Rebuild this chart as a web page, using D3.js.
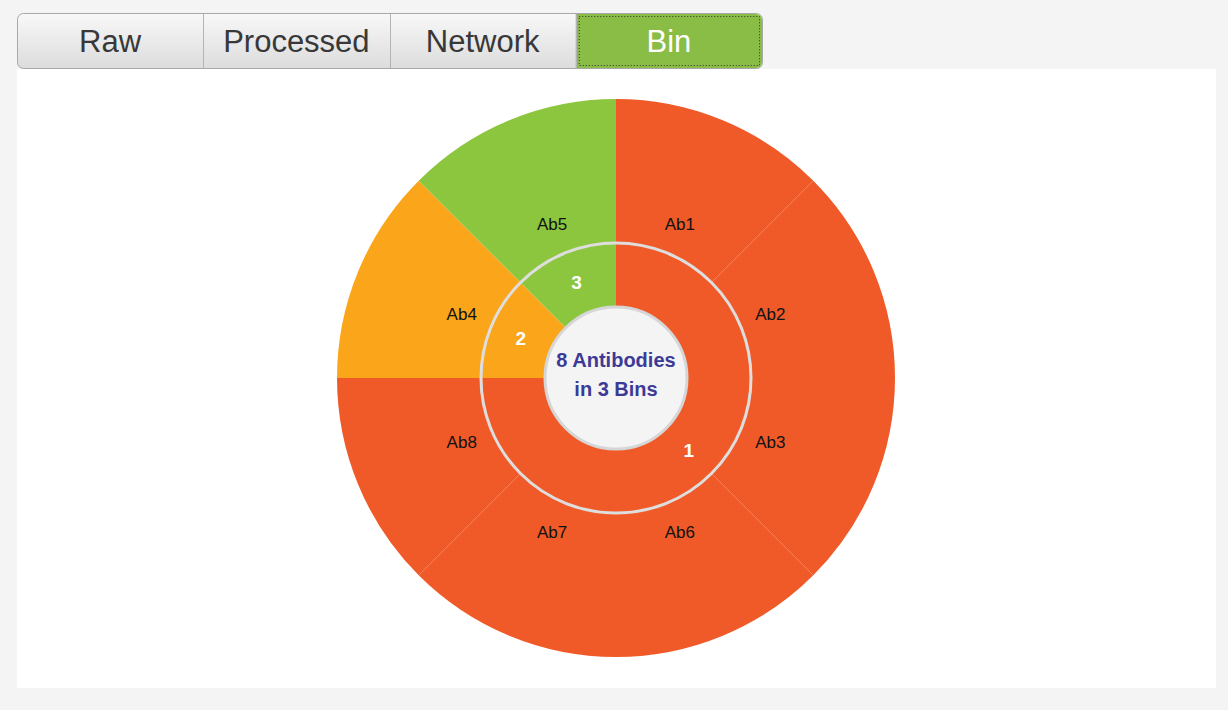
<!DOCTYPE html>
<html>
<head>
<meta charset="utf-8">
<script src="https://cdn.jsdelivr.net/npm/d3@7"></script>
<style>
  body { margin: 0; background: #f4f4f4; }
  svg { display: block; }
</style>
</head>
<body>
<svg id="chart" width="1228" height="710"></svg>
<script>
// data
const tabs = ["Raw", "Processed", "Network", "Bin"];
const activeTab = "Bin";
const antibodies = ["Ab1", "Ab2", "Ab3", "Ab6", "Ab7", "Ab8", "Ab4", "Ab5"];
const antibodyBin = ["1", "1", "1", "1", "1", "1", "2", "3"];
const bins = ["1", "2", "3"];
const binColors = ["#f05a28", "#faa51a", "#8cc63f"];
const centerLines = ["8 Antibodies", "in 3 Bins"];

const svg = d3.select("#chart");
const font = "'Liberation Sans', Arial, sans-serif";

// gradient for the tabs
const defs = svg.append("defs");
const grad = defs.append("linearGradient").attr("id", "tabGrad")
    .attr("x1", 0).attr("y1", 0).attr("x2", 0).attr("y2", 1);
grad.append("stop").attr("offset", "0%").attr("stop-color", "#f8f8f8");
grad.append("stop").attr("offset", "100%").attr("stop-color", "#dcdcdc");

// white panel
svg.append("rect")
    .attr("x", 17).attr("y", 69)
    .attr("width", 1199).attr("height", 619)
    .attr("fill", "#ffffff");

//////// Tabs ////////
const tabX = d3.scaleBand().domain(tabs).range([17, 762]);
const tabTop = 13, tabH = 55;
const gtabs = svg.append("g");

gtabs.append("rect")
    .attr("x", 17.5).attr("y", tabTop + 0.5)
    .attr("width", 745).attr("height", tabH)
    .attr("rx", 6)
    .attr("fill", "url(#tabGrad)")
    .attr("stroke", "#a8a8a8");

// active tab background, clipped to the rounded outline
defs.append("clipPath").attr("id", "tabClip")
    .append("rect")
    .attr("x", 18).attr("y", tabTop + 1)
    .attr("width", 744).attr("height", tabH - 1)
    .attr("rx", 6);

gtabs.append("g").attr("clip-path", "url(#tabClip)")
    .selectAll("rect")
    .data(tabs.filter(t => t == activeTab))
    .join("rect")
    .attr("x", d => tabX(d))
    .attr("y", tabTop)
    .attr("width", tabX.bandwidth() + 2)
    .attr("height", tabH + 1)
    .attr("fill", "#8abd45");

gtabs.selectAll("line.div")
    .data(tabs.slice(1))
    .join("line")
    .attr("class", "div")
    .attr("x1", d => Math.round(tabX(d)) + 0.5)
    .attr("x2", d => Math.round(tabX(d)) + 0.5)
    .attr("y1", tabTop + 1).attr("y2", tabTop + tabH)
    .attr("stroke", "#b4b4b4");

gtabs.selectAll("rect.focus")
    .data(tabs.filter(t => t == activeTab))
    .join("rect")
    .attr("class", "focus")
    .attr("x", d => tabX(d) + 3.5)
    .attr("y", tabTop + 3.5)
    .attr("width", tabX.bandwidth() - 6)
    .attr("height", tabH - 6)
    .attr("fill", "none")
    .attr("stroke", "#333")
    .attr("stroke-dasharray", "1,2");

gtabs.selectAll("text")
    .data(tabs)
    .join("text")
    .attr("x", d => tabX(d) + tabX.bandwidth() / 2)
    .attr("y", tabTop + tabH / 2 + 1)
    .attr("dy", "0.35em")
    .attr("text-anchor", "middle")
    .attr("font-family", font)
    .attr("font-size", 31)
    .attr("fill", d => d == activeTab ? "#ffffff" : "#383838")
    .text(d => d);

//////// Sunburst ////////
const cx = 616, cy = 378;
const rCenter = 71, rInner = 135, rOuter = 279;
const color = d3.scaleOrdinal().domain(bins).range(binColors);

const g = svg.append("g").attr("transform", "translate(" + cx + "," + cy + ")");

const outerData = antibodies.map((ab, i) => ({ name: ab, bin: antibodyBin[i] }));
const pie = d3.pie().sort(null).value(1);
const outerArcs = pie(outerData);

const binCounts = bins.map(b => ({ name: b, count: antibodyBin.filter(x => x == b).length }));
const innerArcs = d3.pie().sort(null).value(d => d.count)(binCounts);

const outerArc = d3.arc().innerRadius(rInner).outerRadius(rOuter);
const innerArc = d3.arc().innerRadius(rCenter).outerRadius(rInner);
const labelArc = d3.arc().innerRadius(167).outerRadius(167);

g.append("g").selectAll("path")
    .data(outerArcs)
    .join("path")
    .attr("d", outerArc)
    .attr("fill", d => color(d.data.bin));

g.append("g").selectAll("path")
    .data(innerArcs)
    .join("path")
    .attr("d", innerArc)
    .attr("fill", d => color(d.data.name));

// grey ring between the two levels
g.append("circle")
    .attr("r", rInner)
    .attr("fill", "none")
    .attr("stroke", "#dedede")
    .attr("stroke-width", 3);

g.append("circle")
    .attr("r", rCenter)
    .attr("fill", "#f4f4f4")
    .attr("stroke", "#d6d6d6")
    .attr("stroke-width", 3);

g.append("g").selectAll("text")
    .data(outerArcs)
    .join("text")
    .attr("transform", d => "translate(" + labelArc.centroid(d) + ")")
    .attr("dy", "0.35em")
    .attr("text-anchor", "middle")
    .attr("font-family", font)
    .attr("font-size", 17)
    .attr("fill", "#111")
    .text(d => d.data.name);

g.append("g").selectAll("text")
    .data(innerArcs)
    .join("text")
    .attr("transform", d => "translate(" + innerArc.centroid(d) + ")")
    .attr("dy", "0.35em")
    .attr("text-anchor", "middle")
    .attr("font-family", font)
    .attr("font-size", 19)
    .attr("font-weight", "bold")
    .attr("fill", "#ffffff")
    .text(d => d.data.name);

g.append("g").selectAll("text")
    .data(centerLines)
    .join("text")
    .attr("x", 0)
    .attr("y", (d, i) => -18 + i * 29)
    .attr("dy", "0.35em")
    .attr("text-anchor", "middle")
    .attr("font-family", font)
    .attr("font-size", 20)
    .attr("font-weight", "bold")
    .attr("fill", "#3c3a96")
    .text(d => d);
</script>
</body>
</html>
